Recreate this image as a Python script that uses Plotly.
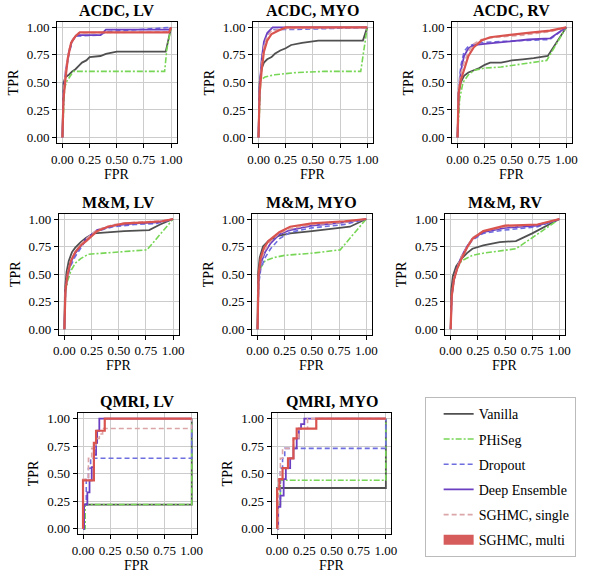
import plotly.graph_objects as go

# ---------------- data (ROC curves) ----------------
methods = ["Vanilla", "PHiSeg", "Dropout", "Deep Ensemble", "SGHMC, single", "SGHMC, multi"]

# ACDC, LV
acdc_lv_vanilla_fpr = [0, 0.01, 0.03, 0.06, 0.09, 0.12, 0.15, 0.18, 0.22, 0.25, 0.35, 0.40, 0.50, 0.95, 1.0]
acdc_lv_vanilla_tpr = [0, 0.50, 0.55, 0.57, 0.60, 0.62, 0.65, 0.68, 0.70, 0.73, 0.74, 0.76, 0.78, 0.78, 1.0]
acdc_lv_phiseg_fpr = [0, 0.02, 0.04, 0.10, 0.94, 0.96, 1.0]
acdc_lv_phiseg_tpr = [0, 0.45, 0.51, 0.60, 0.60, 0.80, 1.0]
acdc_lv_dropout_fpr = [0, 0.01, 0.03, 0.06, 0.09, 0.12, 0.35, 0.40, 1.0]
acdc_lv_dropout_tpr = [0, 0.38, 0.58, 0.76, 0.87, 0.92, 0.93, 0.96, 1.0]
acdc_lv_deep_fpr = [0, 0.01, 0.03, 0.06, 0.09, 0.13, 0.35, 0.40, 0.98, 1.0]
acdc_lv_deep_tpr = [0, 0.40, 0.60, 0.78, 0.88, 0.93, 0.93, 0.98, 0.98, 1.0]
acdc_lv_single_fpr = [0, 0.01, 0.03, 0.06, 0.10, 0.15, 0.98, 1.0]
acdc_lv_single_tpr = [0, 0.42, 0.62, 0.80, 0.90, 0.95, 0.96, 1.0]
acdc_lv_multi_fpr = [0, 0.01, 0.03, 0.05, 0.08, 0.12, 0.16, 0.98, 1.0]
acdc_lv_multi_tpr = [0, 0.35, 0.55, 0.72, 0.86, 0.92, 0.955, 0.955, 1.0]

# ACDC, MYO
acdc_myo_vanilla_fpr = [0, 0.01, 0.03, 0.05, 0.08, 0.12, 0.15, 0.20, 0.25, 0.30, 0.40, 0.55, 0.96, 1.0]
acdc_myo_vanilla_tpr = [0, 0.50, 0.63, 0.68, 0.71, 0.73, 0.76, 0.79, 0.81, 0.84, 0.86, 0.88, 0.88, 1.0]
acdc_myo_phiseg_fpr = [0, 0.02, 0.06, 0.15, 0.35, 0.60, 0.94, 0.97, 1.0]
acdc_myo_phiseg_tpr = [0, 0.52, 0.55, 0.57, 0.59, 0.60, 0.60, 0.80, 1.0]
acdc_myo_dropout_fpr = [0, 0.01, 0.03, 0.05, 0.08, 0.12, 0.32, 1.0]
acdc_myo_dropout_tpr = [0, 0.45, 0.70, 0.85, 0.93, 0.98, 0.98, 1.0]
acdc_myo_deep_fpr = [0, 0.01, 0.03, 0.05, 0.08, 0.13, 1.0]
acdc_myo_deep_tpr = [0, 0.45, 0.72, 0.87, 0.95, 1.0, 1.0]
acdc_myo_single_fpr = [0, 0.01, 0.03, 0.05, 0.08, 0.12, 0.25, 1.0]
acdc_myo_single_tpr = [0, 0.43, 0.68, 0.83, 0.92, 0.97, 0.99, 1.0]
acdc_myo_multi_fpr = [0, 0.01, 0.03, 0.05, 0.08, 0.12, 0.18, 0.25, 1.0]
acdc_myo_multi_tpr = [0, 0.40, 0.62, 0.78, 0.88, 0.94, 0.97, 1.0, 1.0]

# ACDC, RV
acdc_rv_vanilla_fpr = [0, 0.01, 0.03, 0.06, 0.10, 0.15, 0.20, 0.25, 0.30, 0.40, 0.50, 0.60, 0.70, 0.83, 1.0]
acdc_rv_vanilla_tpr = [0, 0.40, 0.50, 0.56, 0.59, 0.61, 0.63, 0.66, 0.68, 0.68, 0.70, 0.71, 0.72, 0.74, 1.0]
acdc_rv_phiseg_fpr = [0, 0.02, 0.05, 0.10, 0.15, 0.25, 0.40, 0.60, 0.82, 1.0]
acdc_rv_phiseg_tpr = [0, 0.35, 0.50, 0.57, 0.61, 0.63, 0.64, 0.67, 0.70, 1.0]
acdc_rv_dropout_fpr = [0, 0.01, 0.03, 0.06, 0.10, 0.20, 0.35, 0.55, 0.85, 1.0]
acdc_rv_dropout_tpr = [0, 0.45, 0.65, 0.78, 0.83, 0.86, 0.87, 0.88, 0.89, 1.0]
acdc_rv_deep_fpr = [0, 0.01, 0.03, 0.06, 0.10, 0.15, 0.25, 0.45, 0.65, 0.85, 1.0]
acdc_rv_deep_tpr = [0, 0.40, 0.60, 0.74, 0.81, 0.84, 0.85, 0.87, 0.89, 0.90, 1.0]
acdc_rv_single_fpr = [0, 0.01, 0.03, 0.06, 0.10, 0.15, 0.22, 0.35, 0.60, 0.85, 1.0]
acdc_rv_single_tpr = [0, 0.45, 0.58, 0.68, 0.78, 0.85, 0.89, 0.91, 0.93, 0.96, 1.0]
acdc_rv_multi_fpr = [0, 0.01, 0.03, 0.06, 0.10, 0.15, 0.22, 0.30, 0.45, 0.65, 0.85, 1.0]
acdc_rv_multi_tpr = [0, 0.40, 0.52, 0.62, 0.74, 0.82, 0.88, 0.91, 0.93, 0.95, 0.97, 1.0]

# M&M, LV
mm_lv_vanilla_fpr = [0, 0.005, 0.02, 0.04, 0.07, 0.10, 0.15, 0.20, 0.27, 0.40, 0.55, 0.78, 0.88, 1.0]
mm_lv_vanilla_tpr = [0, 0.35, 0.52, 0.62, 0.70, 0.74, 0.79, 0.83, 0.87, 0.88, 0.89, 0.90, 0.95, 1.0]
mm_lv_phiseg_fpr = [0, 0.01, 0.03, 0.06, 0.10, 0.15, 0.22, 0.35, 0.55, 0.76, 1.0]
mm_lv_phiseg_tpr = [0, 0.33, 0.44, 0.53, 0.60, 0.64, 0.68, 0.69, 0.70, 0.72, 1.0]
mm_lv_dropout_fpr = [0, 0.01, 0.03, 0.06, 0.10, 0.15, 0.20, 0.30, 0.45, 0.65, 0.85, 1.0]
mm_lv_dropout_tpr = [0, 0.35, 0.48, 0.58, 0.66, 0.74, 0.81, 0.89, 0.93, 0.95, 0.96, 1.0]
mm_lv_deep_fpr = [0, 0.01, 0.03, 0.06, 0.10, 0.15, 0.20, 0.30, 0.45, 0.65, 0.85, 1.0]
mm_lv_deep_tpr = [0, 0.36, 0.50, 0.61, 0.69, 0.76, 0.82, 0.90, 0.94, 0.96, 0.97, 1.0]
mm_lv_single_fpr = [0, 0.01, 0.03, 0.06, 0.10, 0.15, 0.20, 0.30, 0.45, 0.65, 0.85, 1.0]
mm_lv_single_tpr = [0, 0.37, 0.51, 0.62, 0.70, 0.77, 0.82, 0.90, 0.95, 0.97, 0.98, 1.0]
mm_lv_multi_fpr = [0, 0.01, 0.03, 0.06, 0.10, 0.15, 0.20, 0.30, 0.40, 0.55, 0.75, 0.90, 1.0]
mm_lv_multi_tpr = [0, 0.35, 0.50, 0.62, 0.70, 0.76, 0.80, 0.89, 0.93, 0.96, 0.97, 0.98, 1.0]

# M&M, MYO
mm_myo_vanilla_fpr = [0, 0.005, 0.02, 0.05, 0.10, 0.15, 0.20, 0.30, 0.50, 0.70, 0.85, 1.0]
mm_myo_vanilla_tpr = [0, 0.50, 0.65, 0.75, 0.80, 0.83, 0.85, 0.87, 0.89, 0.91, 0.93, 1.0]
mm_myo_phiseg_fpr = [0, 0.01, 0.03, 0.07, 0.15, 0.25, 0.50, 0.76, 1.0]
mm_myo_phiseg_tpr = [0, 0.45, 0.56, 0.62, 0.65, 0.67, 0.69, 0.72, 1.0]
mm_myo_dropout_fpr = [0, 0.01, 0.03, 0.07, 0.12, 0.20, 0.30, 0.50, 0.80, 1.0]
mm_myo_dropout_tpr = [0, 0.40, 0.55, 0.65, 0.73, 0.82, 0.88, 0.92, 0.95, 1.0]
mm_myo_deep_fpr = [0, 0.01, 0.03, 0.07, 0.12, 0.20, 0.30, 0.50, 0.80, 1.0]
mm_myo_deep_tpr = [0, 0.45, 0.60, 0.70, 0.78, 0.86, 0.90, 0.94, 0.97, 1.0]
mm_myo_single_fpr = [0, 0.01, 0.03, 0.07, 0.12, 0.20, 0.30, 0.50, 0.80, 1.0]
mm_myo_single_tpr = [0, 0.47, 0.62, 0.72, 0.80, 0.87, 0.91, 0.95, 0.97, 1.0]
mm_myo_multi_fpr = [0, 0.01, 0.03, 0.06, 0.10, 0.20, 0.30, 0.50, 0.80, 1.0]
mm_myo_multi_tpr = [0, 0.50, 0.65, 0.74, 0.80, 0.88, 0.93, 0.96, 0.98, 1.0]

# M&M, RV
mm_rv_vanilla_fpr = [0, 0.005, 0.02, 0.05, 0.10, 0.15, 0.20, 0.30, 0.45, 0.60, 0.75, 0.90, 1.0]
mm_rv_vanilla_tpr = [0, 0.35, 0.48, 0.57, 0.64, 0.69, 0.73, 0.76, 0.79, 0.80, 0.87, 0.95, 1.0]
mm_rv_phiseg_fpr = [0, 0.01, 0.03, 0.06, 0.10, 0.20, 0.30, 0.50, 0.60, 0.75, 0.90, 1.0]
mm_rv_phiseg_tpr = [0, 0.30, 0.45, 0.55, 0.62, 0.67, 0.69, 0.72, 0.73, 0.83, 0.93, 1.0]
mm_rv_dropout_fpr = [0, 0.01, 0.03, 0.06, 0.10, 0.15, 0.20, 0.30, 0.50, 0.80, 1.0]
mm_rv_dropout_tpr = [0, 0.30, 0.45, 0.55, 0.65, 0.74, 0.81, 0.87, 0.90, 0.93, 1.0]
mm_rv_deep_fpr = [0, 0.01, 0.03, 0.06, 0.10, 0.15, 0.20, 0.30, 0.50, 0.80, 1.0]
mm_rv_deep_tpr = [0, 0.30, 0.45, 0.56, 0.66, 0.75, 0.82, 0.88, 0.92, 0.94, 1.0]
mm_rv_single_fpr = [0, 0.01, 0.03, 0.06, 0.10, 0.15, 0.20, 0.30, 0.50, 0.80, 1.0]
mm_rv_single_tpr = [0, 0.31, 0.46, 0.56, 0.66, 0.75, 0.83, 0.89, 0.93, 0.95, 1.0]
mm_rv_multi_fpr = [0, 0.01, 0.03, 0.06, 0.10, 0.15, 0.20, 0.30, 0.50, 0.80, 1.0]
mm_rv_multi_tpr = [0, 0.30, 0.45, 0.55, 0.64, 0.74, 0.82, 0.89, 0.94, 0.95, 1.0]

# QMRI, LV
qmri_lv_vanilla_fpr = [0, 0, 1, 1]
qmri_lv_vanilla_tpr = [0, 0.22, 0.22, 1.0]
qmri_lv_phiseg_fpr = [0, 0.02, 0.02, 1, 1]
qmri_lv_phiseg_tpr = [0, 0, 0.22, 0.22, 1.0]
qmri_lv_dropout_fpr = [0, 0.01, 0.01, 0.03, 0.03, 0.05, 0.05, 0.07, 0.07, 1, 1]
qmri_lv_dropout_tpr = [0, 0, 0.22, 0.22, 0.45, 0.45, 0.55, 0.55, 0.64, 0.64, 1.0]
qmri_lv_deep_fpr = [0, 0.01, 0.01, 0.04, 0.04, 0.06, 0.06, 0.08, 0.08, 0.10, 0.10, 0.12, 0.12, 0.13, 0.13, 0.15, 0.15, 1]
qmri_lv_deep_tpr = [0, 0, 0.22, 0.22, 0.33, 0.33, 0.44, 0.44, 0.56, 0.56, 0.67, 0.67, 0.78, 0.78, 0.89, 0.89, 1.0, 1.0]
qmri_lv_single_fpr = [0, 0, 0.05, 0.05, 0.08, 0.08, 0.12, 0.12, 0.15, 0.15, 0.18, 0.18, 1, 1]
qmri_lv_single_tpr = [0, 0.45, 0.45, 0.64, 0.64, 0.73, 0.73, 0.82, 0.82, 0.86, 0.86, 0.91, 0.91, 1.0]
qmri_lv_multi_fpr = [0, 0, 0.10, 0.10, 0.12, 0.12, 0.20, 0.20, 1]
qmri_lv_multi_tpr = [0, 0.44, 0.44, 0.78, 0.78, 0.89, 0.89, 1.0, 1.0]

# QMRI, MYO
qmri_myo_vanilla_fpr = [0, 0, 1, 1]
qmri_myo_vanilla_tpr = [0, 0.37, 0.37, 1.0]
qmri_myo_phiseg_fpr = [0, 0.01, 0.03, 0.03, 1, 1]
qmri_myo_phiseg_tpr = [0, 0.22, 0.22, 0.44, 0.44, 1.0]
qmri_myo_dropout_fpr = [0, 0.01, 0.01, 0.03, 0.03, 0.05, 0.05, 0.07, 0.07, 1, 1]
qmri_myo_dropout_tpr = [0, 0, 0.27, 0.27, 0.55, 0.55, 0.64, 0.64, 0.73, 0.73, 1.0]
qmri_myo_deep_fpr = [0, 0.01, 0.01, 0.03, 0.03, 0.06, 0.06, 0.08, 0.08, 0.12, 0.12, 0.15, 0.15,
                     0.18, 0.18, 0.20, 0.20, 0.22, 0.22, 0.25, 0.25, 1]
qmri_myo_deep_tpr = [0, 0, 0.20, 0.20, 0.30, 0.30, 0.45, 0.45, 0.55, 0.55, 0.64, 0.64, 0.73,
                     0.73, 0.82, 0.82, 0.91, 0.91, 0.95, 0.95, 1.0, 1.0]
qmri_myo_single_fpr = [0, 0.01, 0.01, 0.03, 0.03, 0.05, 0.05, 0.15, 0.15, 0.20, 0.20, 0.28, 0.28, 1]
qmri_myo_single_tpr = [0, 0, 0.45, 0.45, 0.64, 0.64, 0.73, 0.73, 0.82, 0.82, 0.91, 0.91, 1.0, 1.0]
qmri_myo_multi_fpr = [0, 0, 0.02, 0.02, 0.05, 0.05, 0.10, 0.10, 0.15, 0.15, 0.18, 0.18, 0.22, 0.22, 0.36, 0.36, 1]
qmri_myo_multi_tpr = [0, 0.36, 0.36, 0.45, 0.45, 0.55, 0.55, 0.64, 0.64, 0.82, 0.82, 0.91, 0.91, 0.91, 0.91, 1.0, 1.0]

tick_vals = [0, 0.25, 0.5, 0.75, 1.0]

# ---------------- panels: title, curves, frame box in pixels ----------------
W, H = 613, 575
panels = [
    ("ACDC, LV", [(acdc_lv_vanilla_fpr, acdc_lv_vanilla_tpr), (acdc_lv_phiseg_fpr, acdc_lv_phiseg_tpr),
                  (acdc_lv_dropout_fpr, acdc_lv_dropout_tpr), (acdc_lv_deep_fpr, acdc_lv_deep_tpr),
                  (acdc_lv_single_fpr, acdc_lv_single_tpr), (acdc_lv_multi_fpr, acdc_lv_multi_tpr)],
     52, 20),
    ("ACDC, MYO", [(acdc_myo_vanilla_fpr, acdc_myo_vanilla_tpr), (acdc_myo_phiseg_fpr, acdc_myo_phiseg_tpr),
                   (acdc_myo_dropout_fpr, acdc_myo_dropout_tpr), (acdc_myo_deep_fpr, acdc_myo_deep_tpr),
                   (acdc_myo_single_fpr, acdc_myo_single_tpr), (acdc_myo_multi_fpr, acdc_myo_multi_tpr)],
     252, 20),
    ("ACDC, RV", [(acdc_rv_vanilla_fpr, acdc_rv_vanilla_tpr), (acdc_rv_phiseg_fpr, acdc_rv_phiseg_tpr),
                  (acdc_rv_dropout_fpr, acdc_rv_dropout_tpr), (acdc_rv_deep_fpr, acdc_rv_deep_tpr),
                  (acdc_rv_single_fpr, acdc_rv_single_tpr), (acdc_rv_multi_fpr, acdc_rv_multi_tpr)],
     455, 20),
    ("M&M, LV", [(mm_lv_vanilla_fpr, mm_lv_vanilla_tpr), (mm_lv_phiseg_fpr, mm_lv_phiseg_tpr),
                 (mm_lv_dropout_fpr, mm_lv_dropout_tpr), (mm_lv_deep_fpr, mm_lv_deep_tpr),
                 (mm_lv_single_fpr, mm_lv_single_tpr), (mm_lv_multi_fpr, mm_lv_multi_tpr)],
     54, 213),
    ("M&M, MYO", [(mm_myo_vanilla_fpr, mm_myo_vanilla_tpr), (mm_myo_phiseg_fpr, mm_myo_phiseg_tpr),
                  (mm_myo_dropout_fpr, mm_myo_dropout_tpr), (mm_myo_deep_fpr, mm_myo_deep_tpr),
                  (mm_myo_single_fpr, mm_myo_single_tpr), (mm_myo_multi_fpr, mm_myo_multi_tpr)],
     251, 213),
    ("M&M, RV", [(mm_rv_vanilla_fpr, mm_rv_vanilla_tpr), (mm_rv_phiseg_fpr, mm_rv_phiseg_tpr),
                 (mm_rv_dropout_fpr, mm_rv_dropout_tpr), (mm_rv_deep_fpr, mm_rv_deep_tpr),
                 (mm_rv_single_fpr, mm_rv_single_tpr), (mm_rv_multi_fpr, mm_rv_multi_tpr)],
     448, 213),
    ("QMRI, LV", [(qmri_lv_vanilla_fpr, qmri_lv_vanilla_tpr), (qmri_lv_phiseg_fpr, qmri_lv_phiseg_tpr),
                  (qmri_lv_dropout_fpr, qmri_lv_dropout_tpr), (qmri_lv_deep_fpr, qmri_lv_deep_tpr),
                  (qmri_lv_single_fpr, qmri_lv_single_tpr), (qmri_lv_multi_fpr, qmri_lv_multi_tpr)],
     73, 414),
    ("QMRI, MYO", [(qmri_myo_vanilla_fpr, qmri_myo_vanilla_tpr), (qmri_myo_phiseg_fpr, qmri_myo_phiseg_tpr),
                   (qmri_myo_dropout_fpr, qmri_myo_dropout_tpr), (qmri_myo_deep_fpr, qmri_myo_deep_tpr),
                   (qmri_myo_single_fpr, qmri_myo_single_tpr), (qmri_myo_multi_fpr, qmri_myo_multi_tpr)],
     271, 414),
]
BOX = 122  # frame size in px

styles = [
    dict(color="#505050", width=1.8, dash="solid"),            # Vanilla
    dict(color="#77d655", width=1.6, dash="6px,2px,2px,2px"),  # PHiSeg
    dict(color="#6e6ee0", width=1.6, dash="5px,3px"),          # Dropout
    dict(color="#6a3fc2", width=1.8, dash="solid"),            # Deep Ensemble
    dict(color="#dca6a8", width=1.6, dash="5px,3px"),          # SGHMC, single
    dict(color="#d9534f", width=2.2, dash="solid"),            # SGHMC, multi
]

FONT = "Liberation Serif"

fig = go.Figure()
layout = {}
annotations = []

for i, (title, curves, left, top) in enumerate(panels):
    n = "" if i == 0 else str(i + 1)
    xa, ya = "x" + n, "y" + n
    for k, (fx, ty) in enumerate(curves):
        fig.add_trace(go.Scatter(
            x=fx, y=ty, mode="lines", xaxis=xa, yaxis=ya,
            line=styles[k], showlegend=False, hoverinfo="skip",
        ))
    axis_common = dict(
        range=[-0.05, 1.05], tickvals=tick_vals, tickformat=".2f",
        showgrid=True, gridcolor="#cccccc", gridwidth=1, zeroline=False,
        showline=True, mirror=True, linecolor="black", linewidth=1,
        ticks="outside", ticklen=4, tickcolor="black", tickwidth=1,
        tickfont=dict(family=FONT, size=13, color="black"),
        fixedrange=True,
    )
    layout["xaxis" + n] = dict(axis_common, anchor=ya, domain=[left / W, (left + BOX) / W])
    layout["yaxis" + n] = dict(axis_common, anchor=xa, domain=[1 - (top + BOX) / H, 1 - top / H])
    annotations.append(dict(
        text="<b>%s</b>" % title, xref=xa + " domain", yref=ya + " domain",
        x=0.5, y=1, yanchor="bottom", xanchor="center", yshift=1, showarrow=False,
        font=dict(family=FONT, size=16, color="black"),
    ))
    annotations.append(dict(
        text="FPR", xref=xa + " domain", yref=ya + " domain",
        x=0.5, y=0, yanchor="middle", xanchor="center", yshift=-31, showarrow=False,
        font=dict(family=FONT, size=14, color="black"),
    ))
    annotations.append(dict(
        text="TPR", xref=xa + " domain", yref=ya + " domain", textangle=-90,
        x=0, y=0.5, yanchor="middle", xanchor="center", xshift=-44, showarrow=False,
        font=dict(family=FONT, size=14, color="black"),
    ))

# legend entries (no data, only swatches)
for k, name in enumerate(methods):
    st = dict(styles[k])
    if k == 5:
        st = dict(color="#d65c5c", width=10, dash="solid")
    fig.add_trace(go.Scatter(
        x=[None], y=[None], mode="lines", name=name, line=st,
        legendgroup=name, showlegend=True, hoverinfo="skip",
    ))

fig.update_layout(
    width=W, height=H, autosize=False,
    margin=dict(l=0, r=0, t=0, b=0),
    paper_bgcolor="white", plot_bgcolor="white",
    font=dict(family=FONT, color="black"),
    annotations=annotations,
    showlegend=True,
    legend=dict(
        x=427 / W, y=1 - 398 / H, xanchor="left", yanchor="top",
        bgcolor="white", bordercolor="#bbbbbb", borderwidth=1,
        font=dict(family=FONT, size=14, color="black"),
        tracegroupgap=4, indentation=13, itemwidth=30,
    ),
    **layout,
)

fig.write_html(
    "out.html",
    config={"displayModeBar": False, "staticPlot": True},
    post_script="document.body.style.margin='0px';",
)
